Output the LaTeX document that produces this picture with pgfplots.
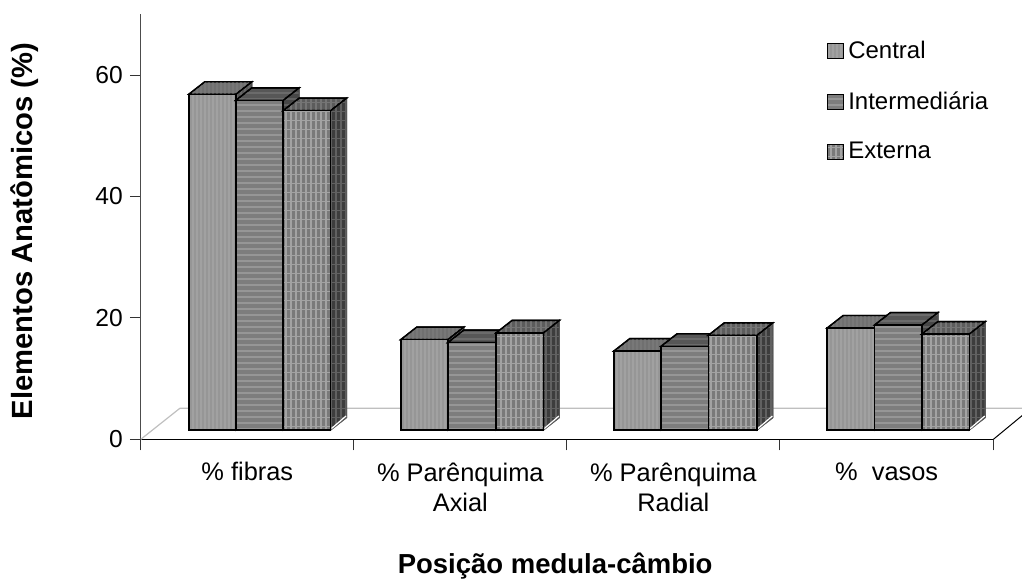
\documentclass[border=0pt]{standalone}
\usepackage{fontspec}
\setmainfont{Liberation Sans}
\usepackage{pgfplots}
\pgfplotsset{compat=1.18}
\usetikzlibrary{patterns}
\pgfdeclarepatternformonly{pfine}{\pgfqpoint{0pt}{-0.5pt}}{\pgfqpoint{2pt}{2.5pt}}{\pgfqpoint{2pt}{2pt}}{%
  \pgfpathrectangle{\pgfqpoint{0pt}{-0.5pt}}{\pgfqpoint{1pt}{3pt}}\pgfusepath{fill}}
\pgfdeclarepatternformonly{phoriz}{\pgfqpoint{-0.5pt}{0pt}}{\pgfqpoint{4.5pt}{3pt}}{\pgfqpoint{4pt}{3pt}}{%
  \pgfpathrectangle{\pgfqpoint{-0.5pt}{0pt}}{\pgfqpoint{5pt}{1.2pt}}\pgfusepath{fill}}
\pgfdeclarepatternformonly{pgrid}{\pgfqpoint{-0.5pt}{-0.5pt}}{\pgfqpoint{3pt}{5pt}}{\pgfqpoint{2.5pt}{4.5pt}}{%
  \pgfpathrectangle{\pgfqpoint{0pt}{-0.5pt}}{\pgfqpoint{0.9pt}{5.5pt}}\pgfusepath{fill}
  \pgfpathrectangle{\pgfqpoint{-0.5pt}{0pt}}{\pgfqpoint{3.5pt}{0.6pt}}\pgfusepath{fill}}
\tikzset{
  fc/.style={draw=black,line width=0.7pt,fill=black!41,postaction={pattern=pfine,pattern color=black!37}},
  tc/.style={draw=black,line width=0.7pt,fill=black!56,postaction={pattern=pfine,pattern color=black!53}},
  sc/.style={draw=black!70,line width=0.6pt,fill=black!66,postaction={pattern=pfine,pattern color=black!60}},
  fi/.style={draw=black,line width=0.7pt,fill=black!51,postaction={pattern=phoriz,pattern color=black!41}},
  ti/.style={draw=black,line width=0.7pt,fill=black!66,postaction={pattern=phoriz,pattern color=black!58}},
  si/.style={draw=black!70,line width=0.6pt,fill=black!72,postaction={pattern=phoriz,pattern color=black!62}},
  fe/.style={draw=black,line width=0.7pt,fill=black!52,postaction={pattern=pgrid,pattern color=black!36}},
  te/.style={draw=black,line width=0.7pt,fill=black!64,postaction={pattern=pgrid,pattern color=black!54}},
  se/.style={draw=black!65,line width=0.6pt,fill=black!76,postaction={pattern=pgrid,pattern color=black!62}},
}
% x of the bar's left and right edge (in pixels of the category axis), value, kind
\newcommand\drawbar[4]{%
  \pgfmathsetmacro\Yb{1.53}%
  \pgfmathsetmacro\Yt{#3+1.53}%
  \pgfmathsetmacro\Ybb{1.53+2.06}%
  \pgfmathsetmacro\Ytb{#3+1.53+2.06}%
  \pgfmathsetmacro\Xr{#2+16}%
  \pgfmathsetmacro\Xl{#1+16}%
  \pgfmathsetmacro\Ywa{1.53+0.25}%
  \pgfmathsetmacro\Ywb{1.53+2.06+0.25}%
  \pgfmathsetmacro\Xwa{#2+1}%
  \pgfmathsetmacro\Xwb{#2+15.5}%
  \addplot[s#4,forget plot] coordinates {(#2,\Yb) (\Xr,\Ybb) (\Xr,\Ytb) (#2,\Yt)} -- cycle;
  \addplot[white,line width=0.6pt,forget plot] coordinates {(\Xwa,\Ywa) (\Xwb,\Ywb)};
  \addplot[t#4,forget plot] coordinates {(#1,\Yt) (\Xl,\Ytb) (\Xr,\Ytb) (#2,\Yt)} -- cycle;
  \addplot[f#4,forget plot] coordinates {(#1,\Yb) (#2,\Yb) (#2,\Yt) (#1,\Yt)} -- cycle;
}
\begin{document}
\begin{tikzpicture}[x=1pt,y=1pt]
\useasboundingbox (0,0) rectangle (511,290);
\begin{axis}[
  at={(70.4pt,70.35pt)},anchor=south west,
  scale only axis,width=426.3pt,height=212.5pt,
  xmin=141,xmax=993.5,ymin=0,ymax=70,
  clip=false,
  axis x line=bottom,axis y line=left,
  axis line style={-},
  x axis line style={black,line width=0.6pt},
  y axis line style={black!70,line width=0.6pt},
  tick align=outside,major tick length=5.5pt,
  tick style={black!80,line width=0.5pt},
  xtick={141,354,567,780,993.5},
  xticklabels={{\%  fibras},{\% Parênquima\\Axial},{\% Parênquima\\Radial},{\%\ \ vasos}},
  x tick label as interval,
  x tick label style={font=\fontsize{12.7}{15}\selectfont,align=center,anchor=north,yshift=-2.6pt},
  ytick={0,20,40,60},
  y tick label style={font=\fontsize{12.3}{15}\selectfont},
  /pgf/number format/assume math mode=true,
  xlabel={Posição medula-câmbio},
  ylabel={Elementos Anatômicos (\%)},
  xlabel style={font=\fontsize{13.75}{16}\selectfont\bfseries,at={(axis description cs:0.486,-0.298)},anchor=center},
  ylabel style={font=\fontsize{14.6}{16}\selectfont\bfseries,at={(axis description cs:-0.136,0.49)},anchor=center},
  legend style={at={(axis cs:827,66.3)},anchor=north west,draw=none,fill=none,
    font=\fontsize{12}{14}\selectfont,row sep=11pt,inner sep=0pt,
    /tikz/every even column/.append style={column sep=3pt}},
  legend cell align=left,
  legend image code/.code={\path[#1] (0pt,-3.7pt) rectangle (8pt,3.7pt);},
]
\addplot[black!25,line width=0.6pt,forget plot] coordinates {(141,0) (180,5.1) (1031,5.1)};
\addplot[black,line width=0.5pt,forget plot] coordinates {(993.5,0) (1031,5.1)};
\drawbar{189}{236}{55.3}{c}
\drawbar{236}{283.3}{54.3}{i}
\drawbar{283.3}{330.7}{52.6}{e}
\drawbar{401}{448}{14.9}{c}
\drawbar{448}{496.3}{14.4}{i}
\drawbar{496.3}{543.5}{16.0}{e}
\drawbar{614}{661.3}{13.0}{c}
\drawbar{661.3}{708.5}{13.8}{i}
\drawbar{708.5}{757}{15.6}{e}
\drawbar{827.3}{874.7}{16.8}{c}
\drawbar{874.7}{922}{17.3}{i}
\drawbar{922}{969.3}{15.8}{e}
\addlegendimage{fc,line width=0.5pt}\addlegendentry{Central}
\addlegendimage{fi,line width=0.5pt}\addlegendentry{Intermediária}
\addlegendimage{fe,line width=0.5pt}\addlegendentry{Externa}
\end{axis}
\end{tikzpicture}
\end{document}
